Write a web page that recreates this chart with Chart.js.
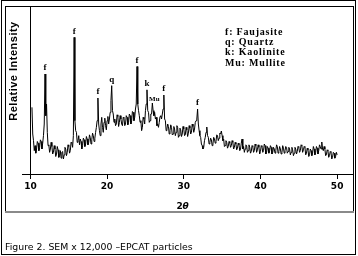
<!DOCTYPE html>
<html>
<head>
<meta charset="utf-8">
<script src="https://cdn.jsdelivr.net/npm/chart.js@4.4.0/dist/chart.umd.min.js"></script>
<style>
    html, body { margin: 0; padding: 0; background: #fff; }
    #wrap { width: 358px; height: 256px; position: relative; }
</style>
</head>
<body>
<div id="wrap"><canvas id="xrdGraph"></canvas></div>
<script>
// XRD pattern: 2-theta 10.2 .. 50.0, step 0.1 (arbitrary counts)
var thetaStart = 10.2;
var thetaStep = 0.1;
var intensity = [
    400, 240, 200, 140, 170, 125, 150, 195, 185, 140, 160, 205, 195, 150, 185, 230, 300, 600, 350, 420,
    250, 170, 175, 130, 150, 190, 165, 120, 130, 170, 150, 105, 120, 165, 145, 100, 110, 140, 95, 130,
    135, 90, 115, 160, 150, 110, 130, 175, 165, 125, 140, 190, 185, 160, 230, 820, 320, 260, 250, 190,
    200, 230, 175, 210, 195, 150, 170, 215, 205, 165, 180, 225, 210, 175, 190, 235, 220, 180, 205, 245,
    230, 195, 215, 250, 280, 320, 456, 300, 260, 230, 300, 340, 280, 250, 310, 335, 290, 265, 320, 345,
    300, 330, 370, 440, 530, 380, 360, 310, 330, 290, 300, 355, 345, 285, 310, 350, 330, 300, 290, 340,
    335, 290, 300, 350, 340, 295, 310, 360, 350, 300, 320, 375, 370, 320, 340, 390, 420, 645, 420, 380,
    350, 310, 320, 260, 280, 340, 330, 300, 380, 420, 505, 380, 370, 310, 320, 360, 360, 426, 380, 350,
    370, 330, 340, 290, 300, 280, 310, 345, 350, 330, 360, 390, 474, 330, 320, 260, 270, 300, 285, 240,
    260, 295, 280, 235, 240, 285, 270, 230, 250, 290, 280, 220, 230, 275, 265, 225, 240, 285, 270, 230,
    235, 280, 265, 225, 245, 290, 275, 240, 250, 300, 285, 250, 270, 310, 320, 330, 390, 300, 260, 230,
    220, 180, 170, 150, 160, 200, 220, 250, 282, 230, 220, 180, 190, 215, 205, 170, 180, 220, 210, 185,
    195, 235, 230, 200, 215, 245, 240, 258, 230, 200, 210, 165, 170, 200, 190, 155, 165, 195, 185, 160,
    170, 200, 190, 150, 160, 190, 180, 145, 155, 185, 175, 140, 150, 185, 210, 150, 165, 130, 150, 175,
    170, 130, 140, 175, 160, 125, 135, 170, 165, 130, 140, 180, 170, 130, 145, 175, 160, 120, 135, 170,
    165, 130, 140, 180, 170, 120, 130, 165, 155, 125, 140, 170, 160, 120, 130, 160, 150, 125, 140, 175,
    165, 125, 135, 165, 150, 120, 130, 170, 155, 125, 140, 165, 160, 125, 135, 160, 150, 115, 130, 160,
    145, 110, 125, 160, 150, 120, 135, 165, 160, 130, 140, 175, 170, 130, 145, 165, 160, 115, 125, 155,
    145, 105, 115, 150, 140, 110, 125, 165, 150, 115, 130, 165, 155, 120, 140, 175, 165, 150, 192, 150,
    140, 165, 150, 110, 115, 145, 140, 100, 110, 135, 130, 90, 100, 130, 125, 95, 105, 130, 115,
];
var xTicks = [10, 20, 30, 40, 50];
var peakLabels = ["f", "f", "f", "q", "f", "k", "Mu", "f", "f"];
var peakTheta = [11.9, 15.7, 18.8, 20.6, 23.9, 25.2, 25.9, 27.4, 31.8];
var legendLines = ["f: Faujasite", "q: Quartz", "k: Kaolinite", "Mu: Mullite"];
var yTitle = "Relative Intensity";
var caption = "Figure 2. SEM x 12,000 \u2013EPCAT particles";

var points = [];
for (var i = 0; i < intensity.length; i++) {
    points.push({ x: +(thetaStart + i * thetaStep).toFixed(1), y: intensity[i] });
}

function intensity_at(theta) {
    return intensity[Math.round((theta - thetaStart) / thetaStep)];
}

var textPlugin = {
    id: "textPlugin",
    afterDraw: function (chart) {
        var ctx = chart.ctx;
        var xs = chart.scales.x;
        var ys = chart.scales.y;
        ctx.save();
        ctx.fillStyle = "#000";
        ctx.strokeStyle = "#000";
        // page frame and figure frame
        ctx.lineWidth = 1;
        ctx.strokeRect(1.5, 0.5, 354, 254);
        ctx.strokeRect(5.5, 6.5, 348, 205);
        ctx.strokeStyle = "#8a8a8a";
        ctx.lineWidth = 2;
        ctx.beginPath();
        ctx.moveTo(5, 212);
        ctx.lineTo(354, 212);
        ctx.stroke();

        // peak labels sit just above their peaks
        ctx.textAlign = "center";
        ctx.textBaseline = "middle";
        for (var i = 0; i < peakLabels.length; i++) {
            var px = xs.getPixelForValue(peakTheta[i]);
            var py = ys.getPixelForValue(intensity_at(peakTheta[i]));
            if (peakLabels[i] == "Mu") {
                ctx.font = "bold 7px 'Liberation Serif'";
                ctx.fillText(peakLabels[i], px + 2, py - 4);
            } else {
                ctx.font = "bold 9px 'Liberation Serif'";
                ctx.fillText(peakLabels[i], px, py - 6);
            }
        }

        // phase legend
        ctx.textAlign = "left";
        ctx.font = "bold 10px 'Liberation Serif'";
        ctx.letterSpacing = "0.8px";
        for (var j = 0; j < legendLines.length; j++) {
            ctx.fillText(legendLines[j], 225, 32.5 + j * 10.2);
        }
        ctx.letterSpacing = "0px";

        // y title
        ctx.save();
        ctx.translate(14, 71);
        ctx.rotate(-Math.PI / 2);
        ctx.textAlign = "center";
        ctx.font = "bold 11px 'Liberation Sans'";
        ctx.letterSpacing = "0.5px";
        ctx.fillText(yTitle, 0, 0);
        ctx.restore();

        // x title
        ctx.textAlign = "left";
        ctx.font = "bold 9px 'DejaVu Sans'";
        ctx.fillText("2", 176.5, 206.5);
        ctx.font = "italic bold 9px 'DejaVu Sans'";
        ctx.fillText("\u03b8", 182.5, 206.5);

        // caption
        ctx.font = "9px 'DejaVu Sans'";
        var w = ctx.measureText(caption).width;
        ctx.font = (9 * 188 / w).toFixed(2) + "px 'DejaVu Sans'";
        ctx.textBaseline = "alphabetic";
        ctx.fillText(caption, 5, 250);
        ctx.restore();
    },
};

var config = {
    type: "line",
    data: {
        datasets: [{
            data: points,
            borderColor: "#000",
            borderWidth: 1,
            pointRadius: 0,
            tension: 0,
            fill: false,
        }],
    },
    options: {
        responsive: true,
        maintainAspectRatio: false,
        animation: false,
        layout: { padding: { left: 22, right: 5, top: 7, bottom: 64 } },
        plugins: {
            legend: { display: false },
            tooltip: { enabled: false },
        },
        scales: {
            x: {
                type: "linear",
                min: 8.9,
                max: 52.07,
                afterBuildTicks: function (scale) {
                    scale.ticks = xTicks.map(function (v) { return { value: v }; });
                },
                afterFit: function (scale) {
                    scale.height = 18;
                },
                border: { display: true, color: "#000", width: 1 },
                grid: {
                    color: function (context) {
                        return context.tick && context.tick.value == 10 ? "#000" : "rgba(0,0,0,0)";
                    },
                    tickColor: "#000",
                    tickLength: 5,
                    lineWidth: 1,
                },
                ticks: {
                    color: "#000",
                    padding: 2,
                    maxRotation: 0,
                    font: { family: "DejaVu Sans", size: 9, weight: "bold" },
                },
            },
            y: {
                display: false,
                min: 0,
                max: 1002,
            },
        },
    },
    plugins: [textPlugin],
};

var xrdGraph = new Chart("xrdGraph", config);
</script>
</body>
</html>
